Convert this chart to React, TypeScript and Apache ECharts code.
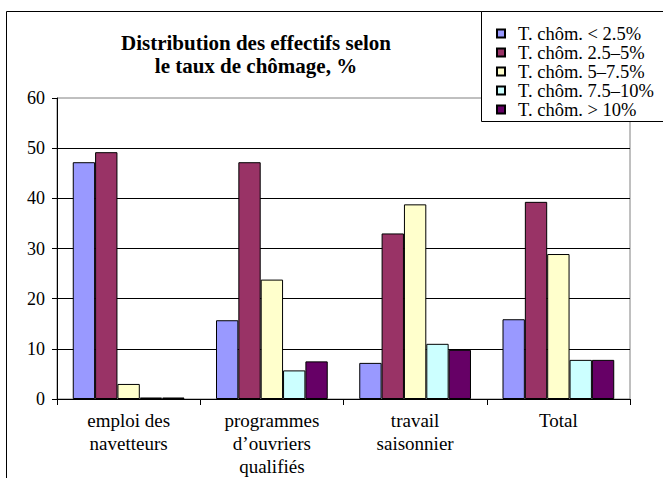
import React, { useEffect, useRef } from "react";
import * as echarts from "echarts";

const categories = [
  "emploi des\nnavetteurs",
  "programmes\nd’ouvriers\nqualifiés",
  "travail\nsaisonnier",
  "Total",
];
const seriesNames = [
  "T. chôm. < 2.5%",
  "T. chôm. 2.5–5%",
  "T. chôm. 5–7.5%",
  "T. chôm. 7.5–10%",
  "T. chôm. > 10%",
];
const below25 = [47.2, 15.7, 7.2, 15.9];
const from25to5 = [49.2, 47.2, 33.0, 39.3];
const from5to75 = [3.0, 23.8, 38.8, 28.9];
const from75to10 = [0.3, 5.7, 11.0, 7.8];
const above10 = [0.3, 7.5, 9.8, 7.8];
const seriesValues = [below25, from25to5, from5to75, from75to10, above10];
const colors = ["#9999FF", "#993366", "#FFFFCC", "#CCFFFF", "#660066"];
const titleLines = ["Distribution des effectifs selon", "le taux de chômage, %"];

const FONT = "Liberation Serif";

export default function App() {
  const ref = useRef<HTMLDivElement>(null);
  useEffect(() => {
    if (!ref.current) return;
    const chart = echarts.init(ref.current, undefined, { renderer: "svg" });
    chart.setOption({
      animation: false,
      backgroundColor: "#ffffff",
      textStyle: { fontFamily: FONT, color: "#000" },
      grid: {
        left: 57,
        right: 33,
        top: 98,
        bottom: 76,
        show: true,
        borderColor: "#808080",
        borderWidth: 1,
        backgroundColor: "transparent",
      },
      graphic: [
        {
          type: "rect",
          z: -10,
          shape: { x: 6.5, y: 11.5, width: 720, height: 520 },
          style: { fill: "none", stroke: "#000", lineWidth: 1 },
        },
        {
          type: "rect",
          z: 15,
          shape: { x: 481.5, y: 11.5, width: 260, height: 110 },
          style: { fill: "#fff", stroke: "#000", lineWidth: 1 },
        },
        {
          type: "text",
          x: 256,
          y: 54,
          z: 16,
          style: {
            text: titleLines.join("\n"),
            fontFamily: FONT,
            fontSize: 21,
            fontWeight: "bold",
            lineHeight: 23,
            align: "center",
            verticalAlign: "middle",
            fill: "#000",
          },
        },
      ],
      legend: {
        orient: "vertical",
        left: 496,
        top: 24,
        padding: 0,
        itemGap: 0,
        itemWidth: 8,
        itemHeight: 8,
        icon: "rect",
        z: 20,
        textStyle: {
          fontFamily: FONT,
          fontSize: 18.5,
          lineHeight: 18.5,
          color: "#000",
          padding: [0, 0, 0, 8],
        },
        data: seriesNames,
      },
      xAxis: {
        type: "category",
        data: categories,
        axisLine: { lineStyle: { color: "#000", width: 1 } },
        axisTick: { show: true, length: 6, alignWithLabel: false, lineStyle: { color: "#000" } },
        axisLabel: {
          interval: 0,
          margin: 10,
          fontFamily: FONT,
          fontSize: 19,
          lineHeight: 23,
          color: "#000",
        },
      },
      yAxis: {
        type: "value",
        min: 0,
        max: 60,
        interval: 10,
        axisLine: { show: true, lineStyle: { color: "#000", width: 1 } },
        axisTick: { show: true, length: 5, lineStyle: { color: "#000" } },
        axisLabel: { margin: 12, fontFamily: FONT, fontSize: 18, color: "#000" },
        splitLine: {
          show: true,
          showMinLine: false,
          showMaxLine: false,
          lineStyle: { color: "#000", width: 1 },
        },
      },
      series: seriesNames.map((name, i) => ({
        name,
        type: "bar",
        data: seriesValues[i],
        barGap: "0%",
        barCategoryGap: "22%",
        itemStyle: { color: colors[i], borderColor: "#000", borderWidth: 1 },
      })),
    });
    return () => chart.dispose();
  }, []);
  return (
    <div
      ref={ref}
      style={{ position: "fixed", left: 0, top: 0, width: 663, height: 478 }}
    />
  );
}
